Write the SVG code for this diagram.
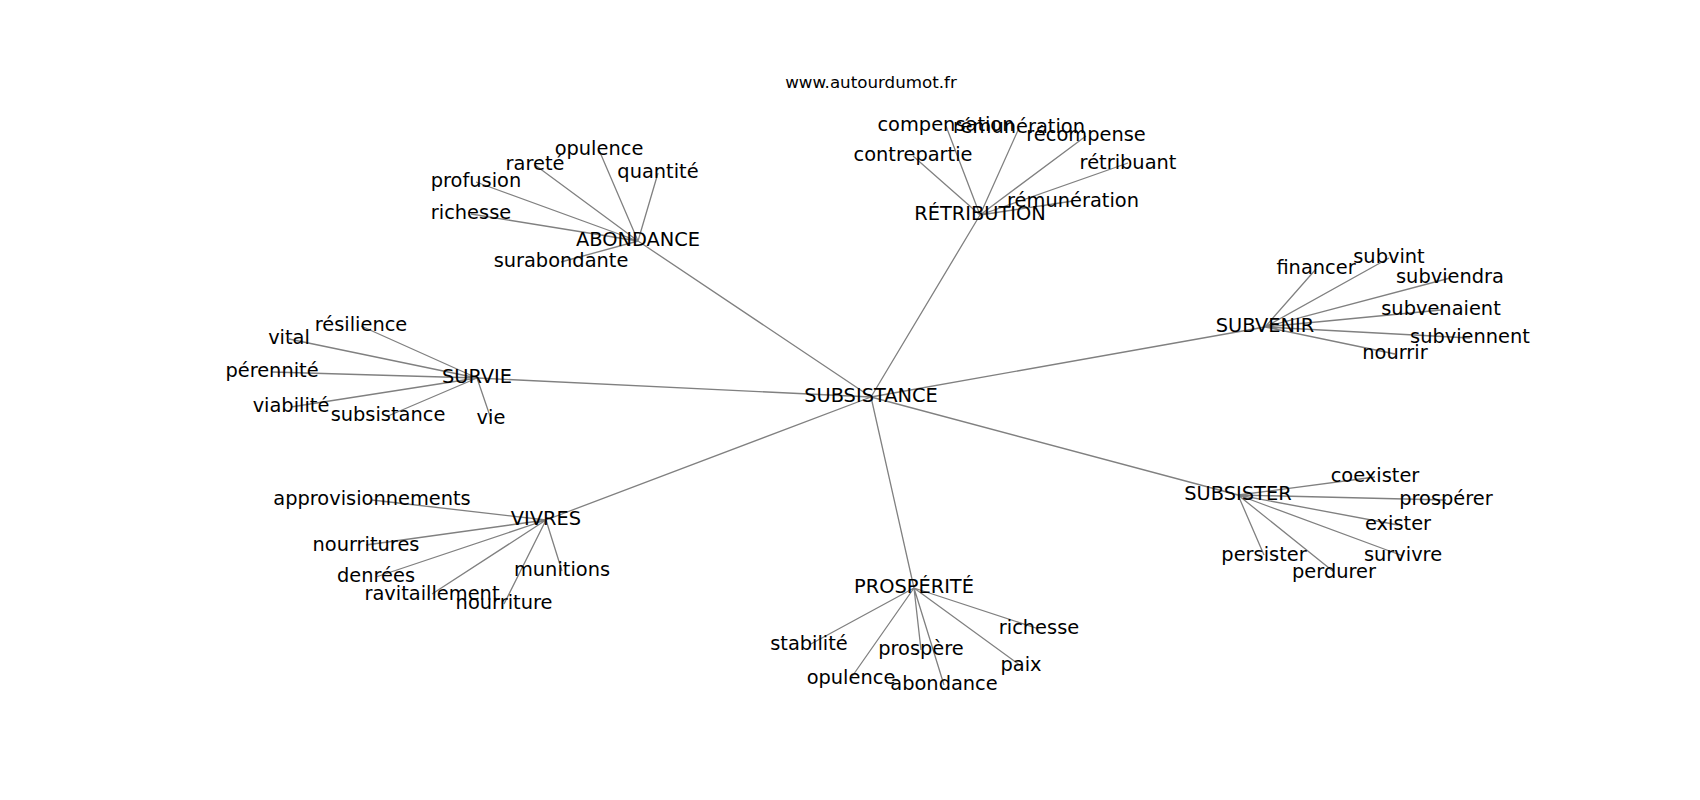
<svg xmlns="http://www.w3.org/2000/svg" width="1700" height="800" viewBox="0 0 1700 800">
<style>
.e{stroke:#808080;stroke-width:1.3;fill:none}
text{font-family:"DejaVu Sans",sans-serif;fill:#000;text-anchor:middle}
.n{font-size:19.4px}
.t{font-size:16.7px}
</style>
<rect width="1700" height="800" fill="#fff"/>
<text class="t" x="871" y="88">www.autourdumot.fr</text>
<g id="edges">
<path class="e" d="M871,397L638,241M871,397L980,215M871,397L1265,327M871,397L477,378M871,397L546,520M871,397L1238,495M871,397L914,588"/>
<path class="e" d="M638,241L599,150M638,241L535,165M638,241L658,173M638,241L476,182M638,241L471,214M638,241L561,262"/>
<path class="e" d="M980,215L946,126M980,215L1019,128M980,215L1086,136M980,215L913,156M980,215L1128,163M980,215L1073,201"/>
<path class="e" d="M1265,327L1316,269M1265,327L1389,258M1265,327L1450,278M1265,327L1441,310M1265,327L1470,338M1265,327L1395,354"/>
<path class="e" d="M477,378L361,326M477,378L289,339M477,378L272,372M477,378L291,407M477,378L388,416M477,378L491,419"/>
<path class="e" d="M546,520L372,500M546,520L366,545M546,520L376,577M546,520L432,594M546,520L504,604M546,520L562,571"/>
<path class="e" d="M1238,495L1375,477M1238,495L1446,500M1238,495L1398,525M1238,495L1403,556M1238,495L1264,555M1238,495L1334,572"/>
<path class="e" d="M914,588L809,645M914,588L921,650M914,588L851,678M914,588L944,685M914,588L1021,666M914,588L1039,629"/>
</g>
<g id="n-subsistance"><text class="n" x="871" y="402">SUBSISTANCE</text></g>
<g id="n-abondance"><text class="n" x="638" y="246">ABONDANCE</text></g>
<g id="n-opulence1"><text class="n" x="599" y="155">opulence</text></g>
<g id="n-rarete"><text class="n" x="535" y="170">rareté</text></g>
<g id="n-quantite"><text class="n" x="658" y="178">quantité</text></g>
<g id="n-profusion"><text class="n" x="476" y="187">profusion</text></g>
<g id="n-richesse1"><text class="n" x="471" y="219">richesse</text></g>
<g id="n-surabondante"><text class="n" x="561" y="267">surabondante</text></g>
<g id="n-retribution"><text class="n" x="980" y="220">RÉTRIBUTION</text></g>
<g id="n-compensation"><text class="n" x="946" y="131">compensation</text></g>
<g id="n-remuneration1"><text class="n" x="1019" y="133">rémunération</text></g>
<g id="n-recompense"><text class="n" x="1086" y="141">récompense</text></g>
<g id="n-contrepartie"><text class="n" x="913" y="161">contrepartie</text></g>
<g id="n-retribuant"><text class="n" x="1128" y="169">rétribuant</text></g>
<g id="n-remuneration2"><text class="n" x="1073" y="207">rémunération</text></g>
<g id="n-subvenir"><text class="n" x="1265" y="332">SUBVENIR</text></g>
<g id="n-financer"><text class="n" x="1316" y="274">financer</text></g>
<g id="n-subvint"><text class="n" x="1389" y="263">subvint</text></g>
<g id="n-subviendra"><text class="n" x="1450" y="283">subviendra</text></g>
<g id="n-subvenaient"><text class="n" x="1441" y="315">subvenaient</text></g>
<g id="n-subviennent"><text class="n" x="1470" y="343">subviennent</text></g>
<g id="n-nourrir"><text class="n" x="1395" y="359">nourrir</text></g>
<g id="n-survie"><text class="n" x="477" y="383">SURVIE</text></g>
<g id="n-resilience"><text class="n" x="361" y="331">résilience</text></g>
<g id="n-vital"><text class="n" x="289" y="344">vital</text></g>
<g id="n-perennite"><text class="n" x="272" y="377">pérennité</text></g>
<g id="n-viabilite"><text class="n" x="291" y="412">viabilité</text></g>
<g id="n-subsistance2"><text class="n" x="388" y="421">subsistance</text></g>
<g id="n-vie"><text class="n" x="491" y="424">vie</text></g>
<g id="n-vivres"><text class="n" x="546" y="525">VIVRES</text></g>
<g id="n-approvisionnements"><text class="n" x="372" y="505">approvisionnements</text></g>
<g id="n-nourritures"><text class="n" x="366" y="551">nourritures</text></g>
<g id="n-denrees"><text class="n" x="376" y="582">denrées</text></g>
<g id="n-ravitaillement"><text class="n" x="432" y="600">ravitaillement</text></g>
<g id="n-nourriture"><text class="n" x="504" y="609">nourriture</text></g>
<g id="n-munitions"><text class="n" x="562" y="576">munitions</text></g>
<g id="n-subsister"><text class="n" x="1238" y="500">SUBSISTER</text></g>
<g id="n-coexister"><text class="n" x="1375" y="482">coexister</text></g>
<g id="n-prosperer"><text class="n" x="1446" y="505">prospérer</text></g>
<g id="n-exister"><text class="n" x="1398" y="530">exister</text></g>
<g id="n-survivre"><text class="n" x="1403" y="561">survivre</text></g>
<g id="n-persister"><text class="n" x="1264" y="561">persister</text></g>
<g id="n-perdurer"><text class="n" x="1334" y="578">perdurer</text></g>
<g id="n-prosperite"><text class="n" x="914" y="593">PROSPÉRITÉ</text></g>
<g id="n-stabilite"><text class="n" x="809" y="650">stabilité</text></g>
<g id="n-prospere"><text class="n" x="921" y="655">prospère</text></g>
<g id="n-opulence2"><text class="n" x="851" y="684">opulence</text></g>
<g id="n-abondance2"><text class="n" x="944" y="690">abondance</text></g>
<g id="n-paix"><text class="n" x="1021" y="671">paix</text></g>
<g id="n-richesse2"><text class="n" x="1039" y="634">richesse</text></g>
</svg>
